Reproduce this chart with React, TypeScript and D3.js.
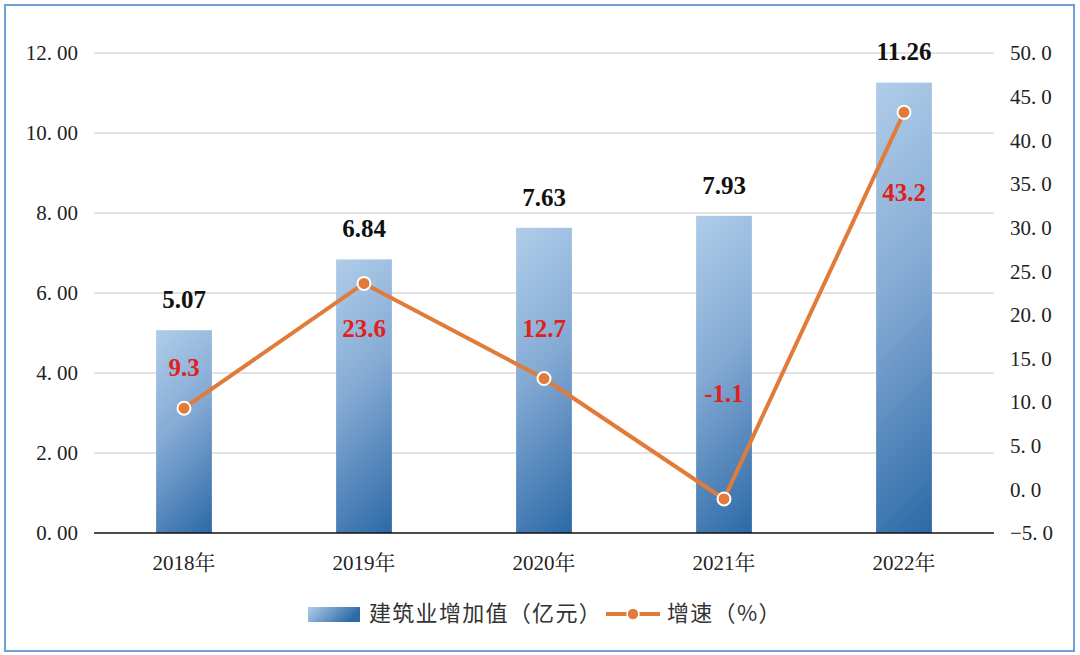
import React from "react";
import * as d3 from "d3";

const categories = ["2018年", "2019年", "2020年", "2021年", "2022年"];
const valueAdded = [5.07, 6.84, 7.63, 7.93, 11.26];
const growth = [9.3, 23.6, 12.7, -1.1, 43.2];
const leftTicks = [0, 2, 4, 6, 8, 10, 12];
const rightTicks = [-5, 0, 5, 10, 15, 20, 25, 30, 35, 40, 45, 50];
const legendLabels = ["建筑业增加值（亿元）", "增速（%）"];
// label vertical offsets (layout only)
const growthLabelDy = [-41, 45, -50, -106, 80];

const W = 1080, H = 655;
const M = { left: 94, right: 994, top: 53, bottom: 533 };
const serif = "'Liberation Serif', 'Times New Roman', 'Noto Serif CJK SC', 'Noto Sans CJK SC', serif";
const sans = "'Noto Sans CJK SC', 'Noto Sans', sans-serif";

function SpacedNum({ s }: { s: string }) {
  const [a, b] = s.split(".");
  return (
    <>
      {a.replace("-", "\u2212")}.<tspan dx={5}>{b}</tspan>
    </>
  );
}

export default function App() {
  const x = d3.scaleBand<string>().domain(categories).range([M.left, M.right]).paddingInner(0.69).paddingOuter(0.345);
  const yL = d3.scaleLinear().domain([0, 12]).range([M.bottom, M.top]);
  const yR = d3.scaleLinear().domain([-5, 50]).range([M.bottom, M.top]);
  const cx = (c: string) => (x(c) as number) + x.bandwidth() / 2;
  const line = d3.line<number>().x((_, i) => cx(categories[i])).y((d) => yR(d));
  const bw = x.bandwidth();

  return (
    <div style={{ position: "fixed", left: 0, top: 0, width: W, height: H, background: "#fff" }}>
      <svg width={W} height={H} style={{ display: "block" }}>
        <defs>
          {categories.map((c, i) => {
            const x0 = x(c) as number;
            const top = yL(valueAdded[i]);
            const h = yL(0) - top;
            const span = (bw + h) / 2;
            return (
              <linearGradient key={c} id={`barGrad${i}`} gradientUnits="userSpaceOnUse" x1={x0} y1={top} x2={x0 + span} y2={top + span}>
                <stop offset="0%" stopColor="#b0cde9" />
                <stop offset="45%" stopColor="#84aad4" />
                <stop offset="100%" stopColor="#2c69a6" />
              </linearGradient>
            );
          })}
          <linearGradient id="legGrad" x1="0" y1="0" x2="1" y2="0.3">
            <stop offset="0%" stopColor="#b0cde9" />
            <stop offset="100%" stopColor="#2c69a6" />
          </linearGradient>
        </defs>
        <rect x={5} y={5} width={1069} height={646} fill="#fff" stroke="#6f9fd6" strokeWidth={2} />
        {leftTicks.filter((t) => t !== 0).map((t) => (
          <line key={t} x1={M.left} x2={M.right} y1={yL(t)} y2={yL(t)} stroke="#d9d9d9" strokeWidth={1.5} />
        ))}
        {leftTicks.map((t) => (
          <text key={t} x={78} y={yL(t)} dy="0.35em" textAnchor="end" fontFamily={serif} fontSize={21} fill="#222">
            <SpacedNum s={t.toFixed(2)} />
          </text>
        ))}
        {rightTicks.map((t) => (
          <text key={t} x={1010} y={yR(t)} dy="0.35em" textAnchor="start" fontFamily={serif} fontSize={21} fill="#222">
            <SpacedNum s={t.toFixed(1)} />
          </text>
        ))}
        {categories.map((c, i) => (
          <rect key={c} x={x(c)} y={yL(valueAdded[i])} width={bw} height={yL(0) - yL(valueAdded[i])} fill={`url(#barGrad${i})`} />
        ))}
        <line x1={M.left} x2={M.right} y1={yL(0)} y2={yL(0)} stroke="#111" strokeWidth={1.5} />
        {categories.map((c) => (
          <text key={c} x={cx(c)} y={563} dy="0.35em" textAnchor="middle" fontFamily={serif} fontSize={21} fill="#222">
            {c}
          </text>
        ))}
        {categories.map((c, i) => (
          <text key={c} x={cx(c)} y={yL(valueAdded[i]) - 31} dy="0.35em" textAnchor="middle" fontFamily={serif} fontWeight="bold" fontSize={25} fill="#111">
            {valueAdded[i].toFixed(2)}
          </text>
        ))}
        <path d={line(growth) || ""} fill="none" stroke="#e07b39" strokeWidth={4} strokeLinejoin="round" />
        {categories.map((c, i) => (
          <circle key={c} cx={cx(c)} cy={yR(growth[i])} r={6.5} fill="#e07b39" stroke="#fff" strokeWidth={2} />
        ))}
        {categories.map((c, i) => (
          <text key={c} x={cx(c)} y={yR(growth[i]) + growthLabelDy[i]} dy="0.35em" textAnchor="middle" fontFamily={serif} fontWeight="bold" fontSize={25} fill="#e0201b">
            {growth[i].toFixed(1)}
          </text>
        ))}
        <g>
          <rect x={308} y={607} width={52} height={15} fill="url(#legGrad)" />
          <text x={369} y={613} dy="0.35em" fontFamily={sans} fontSize={22} letterSpacing={1.3} fill="#333">{legendLabels[0]}</text>
          <line x1={606} x2={660} y1={614} y2={614} stroke="#e07b39" strokeWidth={4} />
          <circle cx={633} cy={614} r={6} fill="#e07b39" stroke="#fff" strokeWidth={1.5} />
          <text x={667} y={613} dy="0.35em" fontFamily={sans} fontSize={22} letterSpacing={1.3} fill="#333">{legendLabels[1]}</text>
        </g>
      </svg>
    </div>
  );
}
